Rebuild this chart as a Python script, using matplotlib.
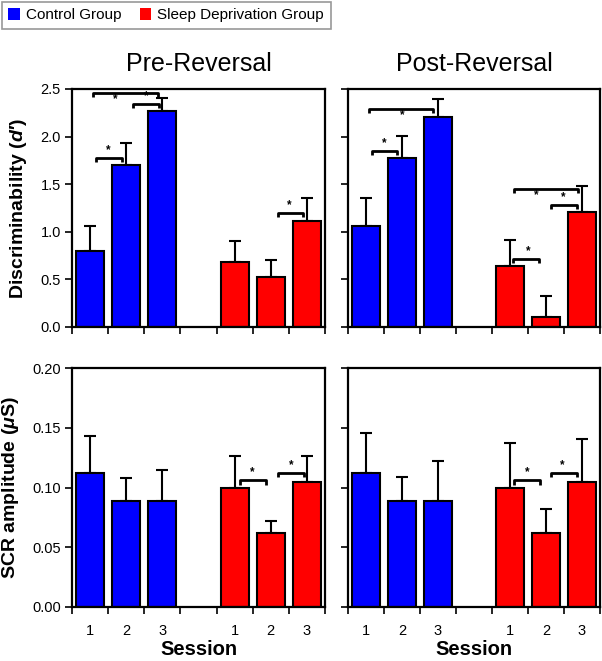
import numpy as np
import matplotlib
matplotlib.use("Agg")
import matplotlib.pyplot as plt
from matplotlib.patches import Patch

plt.rcParams['font.family'] = ['Liberation Sans', 'DejaVu Sans']
plt.rcParams['mathtext.fontset'] = 'custom'
plt.rcParams['mathtext.it'] = 'Liberation Sans:italic:bold'
plt.rcParams['mathtext.rm'] = 'Liberation Sans:bold'
plt.rcParams['mathtext.bf'] = 'Liberation Sans:bold'

# valeurs
sessions = ["1", "2", "3"]
groups = ["Control Group", "Sleep Deprivation Group"]
titles = ["Pre-Reversal", "Post-Reversal"]

dprime_ctrl = [[0.80, 1.70, 2.27], [1.06, 1.78, 2.21]]
dprime_ctrl_err = [[0.26, 0.23, 0.14], [0.30, 0.23, 0.18]]
dprime_sd = [[0.68, 0.52, 1.11], [0.64, 0.10, 1.21]]
dprime_sd_err = [[0.22, 0.18, 0.25], [0.27, 0.23, 0.27]]

scr_ctrl = [[0.112, 0.089, 0.089], [0.112, 0.089, 0.089]]
scr_ctrl_err = [[0.031, 0.019, 0.026], [0.034, 0.020, 0.033]]
scr_sd = [[0.100, 0.062, 0.105], [0.100, 0.062, 0.105]]
scr_sd_err = [[0.026, 0.010, 0.021], [0.037, 0.020, 0.036]]

# crochets de significativité : (x debut, x fin, hauteur, x etoile, etoile dessus?)
brackets_dprime = [
    [(0.66, 1.38, 1.77, 1.00, True), (1.69, 2.40, 2.34, 2.05, True),
     (0.59, 2.37, 2.46, 1.21, False), (5.69, 6.40, 1.20, 6.02, True)],
    [(0.66, 1.37, 1.85, 1.01, True), (0.59, 2.37, 2.29, 1.52, False),
     (4.59, 5.31, 0.71, 5.00, True), (4.61, 6.40, 1.45, 5.22, False),
     (5.65, 6.37, 1.28, 5.97, True)],
]
brackets_scr = [
    [(4.65, 5.36, 0.106, 4.99, True), (5.70, 6.41, 0.112, 6.06, True)],
    [(4.62, 5.33, 0.106, 4.98, True), (5.63, 6.35, 0.112, 5.96, True)],
]

blue = "#0000ff"
red = "#ff0000"
x_ctrl = np.array([0.5, 1.5, 2.5])
x_sd = np.array([4.5, 5.5, 6.5])

fig = plt.figure(figsize=(6.02, 6.61), dpi=100)
lefts = [72 / 602, 348 / 602]
widths = [253 / 602, 252 / 602]
bottoms = [(661 - 327) / 661, (661 - 607) / 661]
heights = [238 / 661, 239 / 661]


def draw_panel(ax, ctrl, ctrl_err, sd, sd_err, brackets, ymax, step, drop):
    ax.bar(x_ctrl, ctrl, width=0.78, color=blue, edgecolor='k', linewidth=1.5, zorder=2)
    ax.bar(x_sd, sd, width=0.78, color=red, edgecolor='k', linewidth=1.5, zorder=2)
    ax.errorbar(x_ctrl, ctrl, yerr=[np.zeros(3), ctrl_err], fmt='none', ecolor='k',
                elinewidth=1.5, capsize=4, capthick=1.5, zorder=1)
    ax.errorbar(x_sd, sd, yerr=[np.zeros(3), sd_err], fmt='none', ecolor='k',
                elinewidth=1.5, capsize=4, capthick=1.5, zorder=1)
    for x0, x1, y, sx, above in brackets:
        ax.plot([x0, x0, x1, x1], [y - drop, y, y, y - drop], color='k', lw=2,
                solid_capstyle='butt', zorder=3)
        if above:
            ax.text(sx, y + drop * 0.5, "*", ha='center', va='bottom', fontsize=8.5, fontweight='bold')
        else:
            ax.text(sx, y - drop * 3.2, "*", ha='center', va='bottom', fontsize=8.5, fontweight='bold')
    ax.set_xlim(0, 7)
    ax.set_ylim(0, ymax)
    ax.set_yticks(np.arange(0, ymax + step / 2, step))
    ax.set_xticks(np.arange(0, 8))
    ax.set_xticklabels([])
    ax.tick_params(axis='both', direction='out', length=5, width=1.2, labelsize=10.5,
                   colors='k', pad=3)
    for sp in ax.spines.values():
        sp.set_linewidth(1.6)


for col in range(2):
    ax = fig.add_axes([lefts[col], bottoms[0], widths[col], heights[0]])
    draw_panel(ax, dprime_ctrl[col], dprime_ctrl_err[col], dprime_sd[col], dprime_sd_err[col],
               brackets_dprime[col], 2.5, 0.5, 0.04)
    ax.set_yticklabels([f"{v:.1f}" for v in np.arange(0, 2.51, 0.5)])
    ax.set_title(titles[col], fontsize=18, pad=13)
    if col == 0:
        ax.set_ylabel("Discriminability ($d$\u2032)", fontsize=14, fontweight='bold', labelpad=8)
    else:
        ax.set_yticklabels([])

    ax2 = fig.add_axes([lefts[col], bottoms[1], widths[col], heights[1]])
    draw_panel(ax2, scr_ctrl[col], scr_ctrl_err[col], scr_sd[col], scr_sd_err[col],
               brackets_scr[col], 0.2, 0.05, 0.0035)
    ax2.set_yticklabels([f"{v:.2f}" for v in np.arange(0, 0.201, 0.05)])
    ax2.set_xticks(np.concatenate([x_ctrl, x_sd]), minor=True)
    ax2.set_xticklabels(sessions + sessions, minor=True)
    ax2.tick_params(axis='x', which='minor', length=0, pad=12, labelsize=10.5)
    ax2.set_xlabel("Session", fontsize=14.5, fontweight='bold', labelpad=2)
    if col == 0:
        ax2.set_ylabel("SCR amplitude ($\\mu$S)", fontsize=14, fontweight='bold', labelpad=8)
    else:
        ax2.set_yticklabels([])

handles = [Patch(facecolor=blue, edgecolor='none'), Patch(facecolor=red, edgecolor='none')]
leg = fig.legend(handles, groups, loc='upper left', bbox_to_anchor=(0.0, 1.0), ncol=2,
                 fontsize=11, frameon=True, fancybox=False, handlelength=0.75, handleheight=0.75,
                 handletextpad=0.4, columnspacing=1.2, borderpad=0.45, borderaxespad=0.1)
leg.get_frame().set_edgecolor('#7f7f7f')
leg.get_frame().set_linewidth(1.2)

fig.savefig("out.png", dpi=100)
